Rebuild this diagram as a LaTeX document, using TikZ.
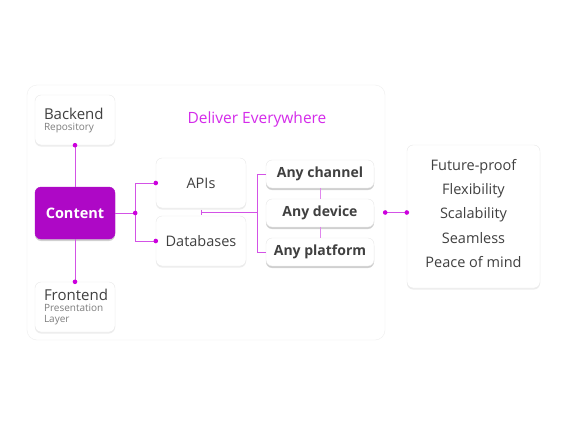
\documentclass[tikz,border=0pt]{standalone}
\usepackage{fontspec}
\setmainfont{Open Sans}
\usepackage{tikz}
\usetikzlibrary{calc}
\usetikzlibrary{shadows}
\definecolor{contentpurple}{HTML}{AE08C6}
\definecolor{linkpink}{HTML}{D352E6}
\definecolor{dotpink}{HTML}{CC00DD}
\definecolor{headpink}{HTML}{D42BEA}
\definecolor{boxedge}{HTML}{E8E8E8}
\definecolor{panedge}{HTML}{EFEFEF}
\definecolor{maingrey}{HTML}{404040}
\definecolor{subgrey}{HTML}{7E7E7E}

\begin{document}
\begin{tikzpicture}[x=1pt,y=-1pt,
	card/.style={draw=boxedge,fill=white,rounded corners=6pt,text=maingrey,
		font=\fontsize{14.5}{16}\selectfont,
		drop shadow={opacity=0.14,shadow xshift=0pt,shadow yshift=-1.5pt}},
	stack/.style={card,minimum width=80pt,minimum height=50pt,text width=62pt,align=left},
	anybox/.style={card,minimum width=108pt,minimum height=28pt,font=\fontsize{14}{16}\selectfont\bfseries,
		drop shadow={opacity=0.3,shadow xshift=0pt,shadow yshift=-2pt}},
	link/.style={linkpink,line width=1pt},
	dot/.style={fill=dotpink}]
\useasboundingbox (0,0) rectangle (568,426);
\fill[white] (0,0) rectangle (568,426);
% panel
\node[draw=panedge,fill=white,rounded corners=10pt,minimum width=358pt,minimum height=255pt] (P) at (206,212.5) {};
\node[headpink,font=\fontsize{15.5}{18}\selectfont] (H) at (257,119) {Deliver Everywhere};
% left column
\node[stack] (B) at (75,120) {{\fontsize{15}{17}\selectfont Backend\par}%
	{\fontsize{10}{11}\selectfont\color{subgrey}Repository\par}};
\node[card,fill=contentpurple,draw=contentpurple,text=white,font=\fontsize{14.5}{16}\selectfont\bfseries,
	minimum width=80pt,minimum height=52pt,drop shadow={opacity=0.3,shadow xshift=0pt,shadow yshift=-2pt}] (C) at (75,213) {Content};
\node[stack] (F) at (75,307) {{\fontsize{15}{17}\selectfont Frontend\par}%
	{\fontsize{10}{11}\selectfont\color{subgrey}Presentation\\Layer\par}};
% middle column
\node[card,minimum width=90pt,minimum height=50pt] (A) at (201,183) {APIs};
\node[card,minimum width=90pt,minimum height=50pt] (D) at (201,241) {Databases};
% channels
\node[anybox] (AC) at (320,174) {Any channel};
\node[anybox] (AD) at (320,213) {Any device};
\node[anybox] (AP) at (320,252) {Any platform};
% benefits
\node[card,minimum width=133pt,minimum height=143pt] (R) at (473.5,216.5) {};
\node[text=maingrey,align=center,font=\fontsize{14.5}{24.2}\selectfont] (RT) at (473.5,213.5)
	{Future-proof\\Flexibility\\Scalability\\Seamless\\Peace of mind};
% connectors
\draw[link] (B.south) -- (C.north);
\draw[link] (C.south) -- (F.north);
\coordinate (J) at ($(C.east)+(20,0)$);
\draw[link] (C.east) -- (J);
\draw[link] (A.west) -| (J) |- (D.west);
\coordinate (T) at ($(A.south)!0.5!(D.north)$);
\coordinate (K) at ($(AD.west)+(-8,0)$);
\draw[link] (T) -- (T -| K);
\draw[link] (T) ++(0,-2.5) -- ++(0,5);
\draw[link] (AC.west) -| (K) |- (AP.west);
\draw[link,linkpink!70] (AC.south) -- (AD.north);
\draw[link,linkpink!70] (AD.south) -- (AP.north);
\coordinate (RW) at (P.east -| R.west);
\draw[link] (P.east) -- (RW);
% dots
\fill[dot] (B.south) circle (2.3);
\fill[dot] (F.north) circle (2.3);
\fill[dot] (J) circle (2.3);
\fill[dot] (A.west) circle (2.3);
\fill[dot] (D.west) circle (2.3);
\fill[dot] (P.east) circle (2.3);
\fill[dot] (RW) circle (2.3);
\end{tikzpicture}
\end{document}
